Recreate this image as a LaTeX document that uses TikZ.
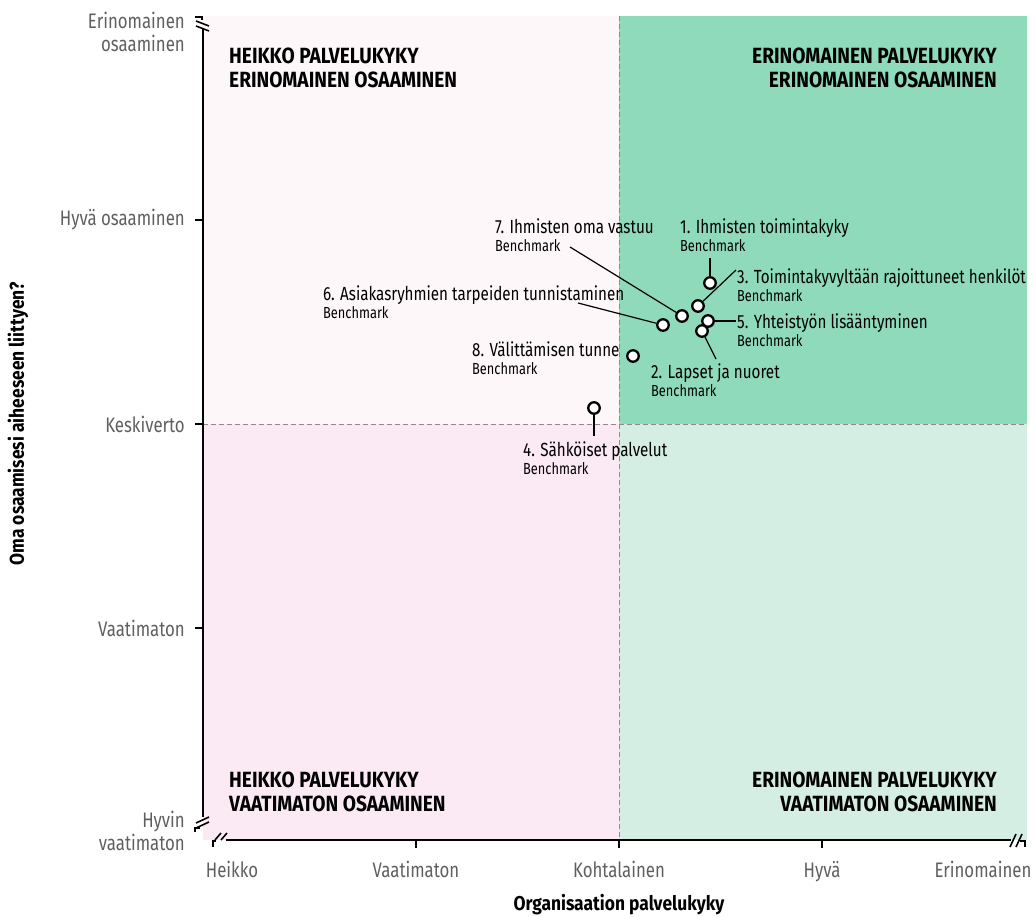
\documentclass[tikz,border=0pt]{standalone}
\usepackage{fontspec}
\setmainfont{Fira Sans}[FakeStretch=0.8]
\newfontfamily\qfamily{Fira Sans Bold}[FakeStretch=0.87]
\usetikzlibrary{calc}
\definecolor{tlpink}{RGB}{253,247,249}
\definecolor{blpink}{RGB}{251,233,243}
\definecolor{trgreen}{RGB}{142,218,187}
\definecolor{brgreen}{RGB}{213,238,227}
\definecolor{axisgrey}{RGB}{95,95,95}
\definecolor{dashgrey}{RGB}{140,140,140}
\newcommand{\lblfont}{\fontsize{19}{18}\selectfont}
\newcommand{\bmfont}{\fontsize{16}{17}\selectfont}
\newcommand{\axfont}{\fontsize{21}{23}\selectfont}
\newcommand{\qfont}{\fontsize{22}{24}\selectfont\qfamily}
\newcommand{\titfont}{\fontsize{20}{22}\selectfont\qfamily}
\tikzstyle{point} = [circle, draw=black, fill=white, line width=2.3pt, minimum size=11.5pt, inner sep=0pt]
\tikzstyle{pointlabel} = [anchor=north west, inner sep=0pt, align=left, font=\lblfont]
\tikzstyle{leader} = [line width=1.2pt]
\tikzstyle{quadrant} = [inner sep=0pt, font=\qfont]
\tikzstyle{axislabel} = [inner sep=0pt, text=axisgrey, font=\axfont]
\tikzstyle{axe} = [line width=1.6pt]
\tikzstyle{separation} = [draw=dashgrey, line width=1pt, dash pattern=on 5pt off 3pt]

\begin{document}
\begin{tikzpicture}[x=1pt, y=-1pt]
        \useasboundingbox (0,0) rectangle (1035,917);

        \fill[tlpink] (203,16) rectangle (619,424);
        \fill[trgreen] (619,16) rectangle (1027,424);
        \fill[blpink] (203,424) rectangle (619,840);
        \fill[brgreen] (619,424) rectangle (1027,840);

        \draw[separation] (619,16) -- (619,840);
        \draw[separation] (203,424) -- (1027,424);

        \draw[axe] (195,17) -- (202,17) -- (202,20);
        \draw[axe] (196,21) -- (209,26);
        \draw[axe] (196,26) -- (209,31);
        \draw[axe] (203,29) -- (203,817);
        \draw[axe] (196,823) -- (209,817);
        \draw[axe] (196,828) -- (209,822);
        \draw[axe] (200,828) -- (195,828) -- (195,832);
        \draw[axe] (195,220) -- (203,220);
        \draw[axe] (195,424) -- (203,424);
        \draw[axe] (195,628) -- (203,628);

        \draw[axe] (213,847) -- (213,841) -- (216,841);
        \draw[axe] (215,840) -- (221,833);
        \draw[axe] (221,840) -- (227,833);
        \draw[axe] (226,840) -- (1011,840);
        \draw[axe] (1010,847) -- (1016,834);
        \draw[axe] (1016,847) -- (1022,834);
        \draw[axe] (1020,841) -- (1025,841) -- (1025,847);
        \draw[axe] (416,840) -- (416,848);
        \draw[axe] (619,840) -- (619,848);
        \draw[axe] (822,840) -- (822,848);

        \node (Q1) [quadrant, anchor=north west, align=left] at (229,48) {HEIKKO PALVELUKYKY\\ERINOMAINEN OSAAMINEN};
        \node (Q2) [quadrant, anchor=north east, align=right] at (997,48) {ERINOMAINEN PALVELUKYKY\\ERINOMAINEN OSAAMINEN};
        \node (Q3) [quadrant, anchor=north west, align=left] at (229,772) {HEIKKO PALVELUKYKY\\VAATIMATON OSAAMINEN};
        \node (Q4) [quadrant, anchor=north east, align=right] at (997,772) {ERINOMAINEN PALVELUKYKY\\VAATIMATON OSAAMINEN};

        \node (Y1) [axislabel, anchor=north east, align=right] at (185,12) {Erinomainen\\osaaminen};
        \node (Y2) [axislabel, anchor=east] at (185,220) {Hyvä osaaminen};
        \node (Y3) [axislabel, anchor=east] at (185,424) {Keskiverto};
        \node (Y4) [axislabel, anchor=east] at (185,628) {Vaatimaton};
        \node (Y5) [axislabel, anchor=north east, align=right] at (185,811) {Hyvin\\vaatimaton};

        \node (X1) [axislabel, anchor=north] at (232,861) {Heikko};
        \node (X2) [axislabel, anchor=north] at (416,861) {Vaatimaton};
        \node (X3) [axislabel, anchor=north] at (619,861) {Kohtalainen};
        \node (X4) [axislabel, anchor=north] at (822,861) {Hyvä};
        \node (X5) [axislabel, anchor=north] at (983,861) {Erinomainen};

        \node (XT) [font=\titfont, inner sep=0pt] at (619,905) {Organisaation palvelukyky};
        \node (YT) [font=\titfont, inner sep=0pt, rotate=90] at (18,424) {Oma osaamisesi aiheeseen liittyen?};

        \node (P1) [point] at (710,283) {};
        \node (P3) [point] at (698,306) {};
        \node (P7) [point] at (682,316) {};
        \node (P6) [point] at (663,325) {};
        \node (P5) [point] at (708,321) {};
        \node (P2) [point] at (702,331) {};
        \node (P8) [point] at (633,356) {};
        \node (P4) [point] at (594,408) {};

        \node (L1) [pointlabel] at (680,218) {1. Ihmisten toimintakyky\\{\bmfont Benchmark}};
        \node (L7) [pointlabel] at (495,218) {7. Ihmisten oma vastuu\\{\bmfont Benchmark}};
        \node (L3) [pointlabel] at (737,268) {3. Toimintakyvyltään rajoittuneet henkilöt\\{\bmfont Benchmark}};
        \node (L6) [pointlabel] at (323,285) {6. Asiakasryhmien tarpeiden tunnistaminen\\{\bmfont Benchmark}};
        \node (L5) [pointlabel] at (737,313) {5. Yhteistyön lisääntyminen\\{\bmfont Benchmark}};
        \node (L8) [pointlabel] at (472,341) {8. Välittämisen tunne\\{\bmfont Benchmark}};
        \node (L2) [pointlabel] at (651,363) {2. Lapset ja nuoret\\{\bmfont Benchmark}};
        \node (L4) [pointlabel] at (523,441) {4. Sähköiset palvelut\\{\bmfont Benchmark}};

        \coordinate (c1) at (710,258);
        \coordinate (c3) at (736,270);
        \coordinate (c7) at (570,247);
        \coordinate (c6) at (578,303);
        \coordinate (c5) at (736,321);
        \coordinate (c2) at (716,359);
        \coordinate (c4) at (594,436);

        \draw[leader] (c1) -- (P1);
        \draw[leader] (c3) -- (P3);
        \draw[leader] (c7) -- (P7);
        \draw[leader] (c6) -- (P6);
        \draw[leader] (c5) -- (P5);
        \draw[leader] (c2) -- (P2);
        \draw[leader] (c4) -- (P4);

    \end{tikzpicture}
\end{document}
